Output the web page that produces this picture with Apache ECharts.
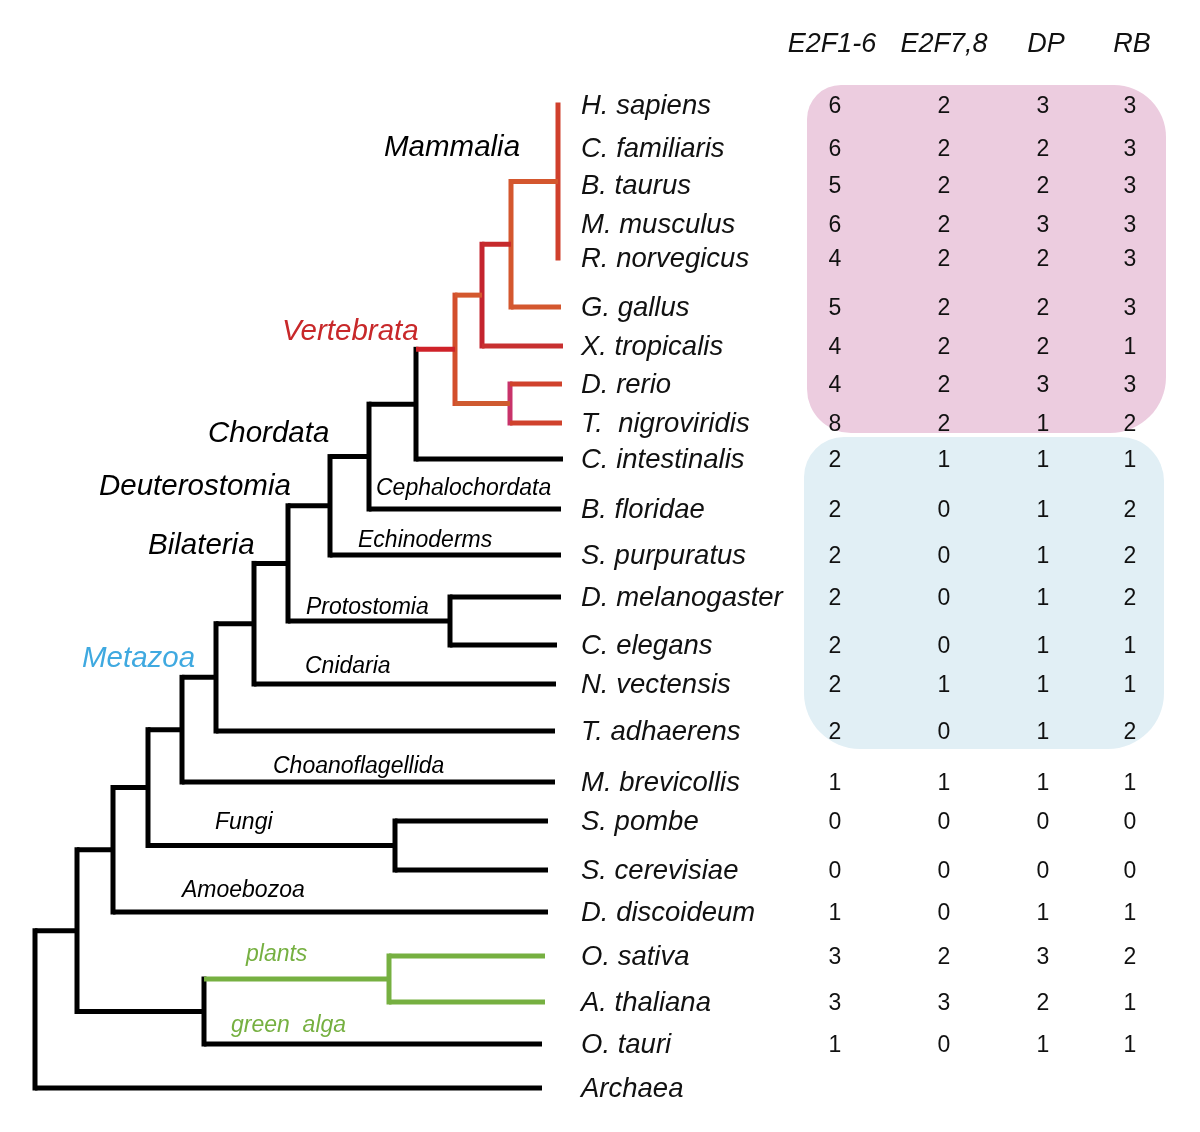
<!DOCTYPE html>
<html><head><meta charset="utf-8">
<script src="https://cdn.jsdelivr.net/npm/echarts@6/dist/echarts.min.js"></script>
<style>html,body{margin:0;padding:0;background:#fff}#c{width:1200px;height:1132px}</style>
</head><body><div id="c"></div>
<script>
// ---------------- DATA ----------------
const taxa = ['H. sapiens','C. familiaris','B. taurus','M. musculus','R. norvegicus','G. gallus','X. tropicalis','D. rerio','T.  nigroviridis','C. intestinalis','B. floridae','S. purpuratus','D. melanogaster','C. elegans','N. vectensis','T. adhaerens','M. brevicollis','S. pombe','S. cerevisiae','D. discoideum','O. sativa','A. thaliana','O. tauri','Archaea'];
// tip row position (tree units = rows) and tip depth (branch end)
const tipY = [105,148,185,224,258,307,346,384,423,459,509,555,597,645,684,731,782,821,870,912,956,1002,1044,1088];
const tipX = [558,558,558,558,558,561,563,562,562,563,561,561,561,557,556,555,555,548,548,548,545,545,542,542];
// internal nodes: name, depth, children (taxon index or node name)
const nodeNames = ['mam','amn','tet','fish','vert','olf','chor','deut','prot','bil','eum','met','hol','fun','opi','amo','pla','vir','euk','root'];
const nodeX = [558,511,482,510,455,416,369,330,450,288,254,216,182,395,148,113,389,204,77,35];
const nodeKids = [[0,1,2,3,4],['mam',5],['amn',6],[7,8],['tet','fish'],['vert',9],['olf',10],['chor',11],[12,13],['deut','prot'],['bil',14],['eum',15],['met',16],[17,18],['hol','fun'],['opi',19],[20,21],['pla',22],['amo','vir'],['euk',23]];
// clade names
const cladeNames = ['Mammalia','Vertebrata','Chordata','Deuterostomia','Bilateria','Metazoa','Cephalochordata','Echinoderms','Protostomia','Cnidaria','Choanoflagellida','Fungi','Amoebozoa','plants','green  alga'];
// gene family counts (rows follow taxa; Archaea has none)
const geneCols = ['E2F1-6','E2F7,8','DP','RB'];
const e2f1_6 = [6,6,5,6,4,5,4,4,8,2,2,2,2,2,2,2,1,0,0,1,3,3,1];
const e2f7_8 = [2,2,2,2,2,2,2,2,2,1,0,0,0,0,1,0,1,0,0,0,2,3,0];
const dp     = [3,2,2,3,2,2,2,3,1,1,1,1,1,1,1,1,1,0,0,1,3,2,1];
const rb     = [3,3,3,3,3,3,1,3,2,1,2,2,2,1,1,2,1,0,0,1,2,1,1];
// row groups highlighted
const groupRows = [[0,8],[9,15]];

// ---------------- STYLE / LAYOUT ----------------
const LW = 5;
const FONT = '"Liberation Sans", Arial, Helvetica, sans-serif';
const branchColor = {mam:'#d4572e',5:'#d4572e',amn:'#c62a2c',6:'#c83030',tet:'#d4582e',fish:'#cf5a30',7:'#d0422c',8:'#d0422c',vert:'#cf2229',pla:'#76b041',20:'#76b041',21:'#76b041'};
const vertColor = {mam:'#d0402c',amn:'#d4572e',tet:'#c4242e',vert:'#d34e2c',fish:'#c8336a',pla:'#76b041'};
const labelX = 581;
const colX = [835, 944, 1043, 1130];
const headerX = [832, 944, 1046, 1132];
const headerY = 44;
const cladeLayout = [
  [384,148,'big','#000'],[282,332,'big','#c8282a'],[208,434,'big','#000'],[99,487,'big','#000'],
  [148,546,'big','#000'],[82,659,'big','#3fa9e0'],[376,489,'small','#000'],[358,541,'small','#000'],
  [306,608,'small','#000'],[305,667,'small','#000'],[273,767,'small','#000'],[215,823,'small','#000'],
  [182,891,'small','#000'],[246,955,'small','#76b041'],[231,1026,'small','#76b041']
];
const boxStyle = [
  {fill:'#ecccdf', padL:28, padR:36, padT:20, padB:10, r:[34,52,56,44]},
  {fill:'#e1eff5', padL:31, padR:34, padT:22, padB:18, r:[40,44,56,56]}
];

// ---------------- TREE GEOMETRY ----------------
const nodeIdx = {}; nodeNames.forEach((n,i)=>nodeIdx[n]=i);
const yCache = {};
function kidY(k){ return typeof k === 'number' ? tipY[k] : nodeY(k); }
function kidX(k){ return typeof k === 'number' ? tipX[k] : nodeX[nodeIdx[k]]; }
function nodeY(n){
  if (yCache[n] !== undefined) return yCache[n];
  const ks = nodeKids[nodeIdx[n]];
  const v = (kidY(ks[0]) + kidY(ks[ks.length-1])) / 2;
  yCache[n] = v; return v;
}
const segs = []; // [x1,y1,x2,y2,color]
nodeNames.forEach((n,i)=>{
  const ks = nodeKids[i];
  const x = nodeX[i];
  const y0 = kidY(ks[0]), y1 = kidY(ks[ks.length-1]);
  segs.push([x, y0 - LW/2, x, y1 + LW/2, vertColor[n] || '#000']);
  ks.forEach(k=>{
    const cx = kidX(k), cy = kidY(k);
    if (cx > x) segs.push([x, cy, cx, cy, branchColor[k] || '#000']);
  });
});

const cols = [e2f1_6, e2f7_8, dp, rb];
const cells = [];
cols.forEach((arr,c)=>arr.forEach((v,r)=>cells.push([colX[c], tipY[r] + 2, v])));

const boxes = groupRows.map((g,i)=>[colX[0]-boxStyle[i].padL, tipY[g[0]]-boxStyle[i].padT, colX[3]+boxStyle[i].padR, tipY[g[1]]+boxStyle[i].padB, i]);

// ---------------- CHART ----------------
const chart = echarts.init(document.getElementById('c'), null, {renderer:'canvas'});
function txt(p, text, font, fill, align){
  return {type:'text', x:p[0], y:p[1], style:{text:text, font:font, fill:fill, align:align||'left', verticalAlign:'middle', textAlign:align||'left', textVerticalAlign:'middle'}};
}
chart.setOption({
  animation:false,
  grid:{left:0,right:0,top:0,bottom:0},
  xAxis:{type:'value',min:0,max:1200,show:false},
  yAxis:{type:'value',min:0,max:1132,inverse:true,show:false},
  series:[
    { type:'custom', data:boxes, z:1, renderItem:(params,api)=>{
        const a = api.coord([api.value(0), api.value(1)]), b = api.coord([api.value(2), api.value(3)]);
        const s = boxStyle[api.value(4)];
        return {type:'rect', shape:{x:a[0], y:a[1], width:b[0]-a[0], height:b[1]-a[1], r:s.r}, style:{fill:s.fill}};
    }},
    { type:'custom', data:segs.map(s=>s.slice(0,4)), z:2, renderItem:(params,api)=>{
        const a = api.coord([api.value(0), api.value(1)]), b = api.coord([api.value(2), api.value(3)]);
        return {type:'line', shape:{x1:a[0],y1:a[1],x2:b[0],y2:b[1]}, style:{stroke:segs[params.dataIndex][4], lineWidth:LW, lineCap:'butt'}};
    }},
    { type:'custom', data:taxa.map((t,i)=>[labelX, tipY[i] + 1]), z:3, renderItem:(params,api)=>{
        const p = api.coord([api.value(0), api.value(1)]);
        return txt(p, taxa[params.dataIndex], 'italic 27.5px ' + FONT, '#111');
    }},
    { type:'custom', data:cells, z:3, renderItem:(params,api)=>{
        const p = api.coord([api.value(0), api.value(1)]);
        return txt(p, String(api.value(2)), '23px ' + FONT, '#111', 'center');
    }},
    { type:'custom', data:geneCols.map((g,i)=>[headerX[i], headerY]), z:3, renderItem:(params,api)=>{
        const p = api.coord([api.value(0), api.value(1)]);
        return txt(p, geneCols[params.dataIndex], 'italic 27px ' + FONT, '#111', 'center');
    }},
    { type:'custom', data:cladeLayout.map(c=>[c[0], c[1]]), z:3, renderItem:(params,api)=>{
        const p = api.coord([api.value(0), api.value(1)]);
        const L = cladeLayout[params.dataIndex];
        const f = L[2]==='big' ? 'italic 29.5px ' : 'italic 23px ';
        return txt(p, cladeNames[params.dataIndex], f + FONT, L[3]);
    }}
  ]
});
</script></body></html>
